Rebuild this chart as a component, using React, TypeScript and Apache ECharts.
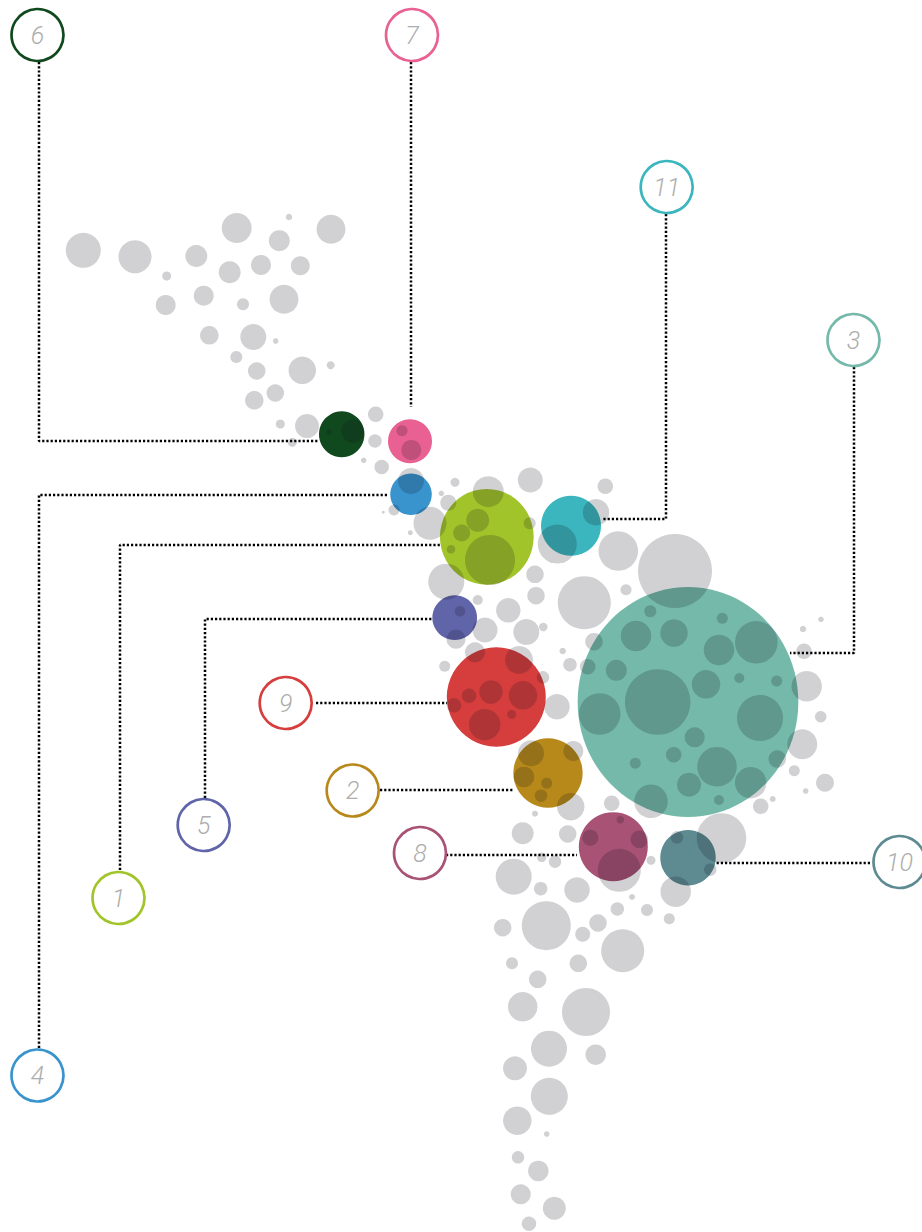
import React, { useEffect, useRef } from "react";
import * as echarts from "echarts";

const WIDTH = 922;
const HEIGHT = 1232;

// [x, y, diameter] in chart units
const greyBubbles: number[][] = [
  [83.3,250.3,35],[135,256.7,33],[166.7,276,9],[196.3,256,22],[236.7,228,30],[289,217,6.5],[279.3,240.7,21],[331,229.3,29],
  [229.7,272.3,22],[261,265,20],[300.3,265.7,19],[165.7,305,20],[203.7,295.7,20],[243,304.3,12],[284,299.3,29],[209.3,335.3,18.5],
  [253.3,337,26],[275.7,341,5.5],[236.3,357,12],[256.7,371,17.5],[302.3,370.3,27.5],[330.7,365.3,8],[275.3,393,17.5],[254.3,400.3,18.5],
  [280.3,424,9],[307,426,24],[292.3,442.3,9],[375.7,414.3,15.5],[375,441,13.5],[363.7,460.3,5.5],[381.7,467,14.5],[411,481,26],
  [455,482.3,9],[441.3,493.3,5.5],[448.3,502.7,16],[394,510,11],[383.3,512.3,3],[430,523.3,33],[410.3,532.7,5],
  [329,432,5.5],[352.7,431.3,23],[402,430.7,11],[411.3,450,20],
  [488.3,491.7,31],[530.3,480,25],[605.3,486.3,15.5],[596,512.3,26.5],[557.3,544,39],[477.7,520.3,23],[461.7,533,17],[529.7,523.3,12],
  [451,549.3,8.5],[490,560,50],[618.3,551,39.5],[675,571,74],[446.3,581.7,36],[535,574.3,17.5],[536,595.7,17.5],[584.3,602.7,53],
  [626,589.7,11],[650.3,611.3,12],[722.3,618.3,11],[477.7,600,10],[460,611.3,10.5],[508.3,610.3,24.5],[485,630,25],[526.3,632,26],
  [543.3,627,8.5],[456,639.3,19],[636,636,30.5],[674,633,27.5],[719,650,30.5],[756.3,642.3,42.5],[803,629,6.5],[821,619.3,5.5],
  [804,651.3,15.5],[594,641.7,17.5],[475,652.3,20],[519,660,28],[444.7,666.3,11],[562.7,651,6.5],[570,664.7,13.5],[587.7,666.7,15.5],
  [616.3,670.3,21],[543,677.3,12.5],[657.7,702,65.5],[706,684.3,28.5],[739.3,678,10],[776.7,681,11],[806.7,686.3,30.5],[599.7,714,41.5],
  [760,718,46],[820.7,716.7,11.5],[523,695.3,28.5],[491,692,23.5],[469,695.7,14.5],[454,705.3,14.5],[511.7,714.3,9],[484.7,724.7,31.5],
  [557,706.7,25.5],[694.7,737.3,20],[802.3,744.3,30],[531,753.3,26],[573.3,751,20],[673.7,754.7,15.5],[635.3,763.3,11],[717,766.7,39.5],
  [777.3,759,17.5],[794.3,770.7,11],[524,777,20.5],[546.7,783.3,11],[541,795.7,12.5],[689,784.7,24],[750.7,782.7,31.5],[825,782.7,18],
  [805.7,791,5.5],[651,801.3,33.5],[719,800,10],[570.7,806.7,27.5],[760.7,806.3,15.5],[772.7,799,6],[611.7,803.3,15.5],[535,813.7,6],
  [522.7,833.3,22],[567.7,834,17.5],[721.5,838,49.5],[620.3,819.7,7.5],[590.3,837.7,16],[639.3,839.3,17.5],[619.3,870.3,43],[651,860.3,9],
  [677,837.3,12.5],[710.3,869.7,12.5],[675.7,891.7,30.5],[541.7,857.3,9.5],[555,861.7,12.5],[513.7,876.7,36],[540.7,888.7,13.5],[577,890,25.5],
  [632,897,6],[617.3,909,13.5],[647,910,12],[669.3,918.7,11],[546.3,925.7,49],[502.7,927.7,17.5],[598,923,17.5],[582.7,934.3,15],
  [622.7,950.7,43],[512,963.3,12],[578.3,963.3,17.5],[537.7,979.3,17.5],[522.7,1006.7,29.5],[586,1012,48],[549,1048.7,36],[595.7,1054.7,20.5],
  [515,1068.3,24],[549.3,1096.3,37],[517.3,1120.7,28.5],[546.7,1134,5.5],[518,1157.3,12.5],[538.3,1171,20.5],[520.7,1194.3,20],[554.3,1208.3,23],[529,1223.7,14.5],
];

const seriesIds = ["1","2","3","4","5","6","7","8","9","10","11"];
const seriesColors = ["#A2C42B","#B6891A","#74B9AA","#3994CE","#6064A9","#11491F","#E96092","#A85275","#D63E3E","#5D8B91","#3CB6BE"];
// [x, y, width, height]
const colouredBubbles: number[][] = [
  [486.8,536.8,93.7,95.7],[548,773,69.3,69.3],[688,702,220.7,230],[411,494.3,41.5,41.5],[454.7,617.7,44.7,44.7],[341.7,434.3,45.5,46],
  [410,441.3,44,44],[613.3,846.7,69,69],[496.3,697,99,99.3],[688,857.7,55.5,55.5],[571,525.7,60,60],
];
const calloutCentres: number[][] = [
  [118.5,898],[352.7,790.5],[853.5,340],[37.5,1075.5],[203.7,825],[37.5,35],[412,35],[420,853],[285.7,703],[899.5,862],[666.7,187],
];
const connectors: number[][][] = [
  [[120,870],[120,545],[440,545]],
  [[380,790],[513,790]],
  [[854,367],[854,653],[790,653]],
  [[39,1048],[39,495],[387,495]],
  [[205,798],[205,619],[437,619]],
  [[39,62],[39,441],[318,441]],
  [[411,62],[411,407]],
  [[446,855],[577,855]],
  [[316,703],[447,703]],
  [[870,863],[716,863]],
  [[666,214],[666,519],[603,519]],
];

export default function App() {
  const ref = useRef<HTMLDivElement>(null);
  useEffect(() => {
    const chart = echarts.init(ref.current!, null, { renderer: "svg" });
    const series: any[] = [];
    connectors.forEach((pts, i) => {
      series.push({
        type: "line", name: "connector " + seriesIds[i], data: pts, z: 1, symbol: "none", silent: true,
        lineStyle: { color: "#000", width: 2.5, type: [2.2, 2], cap: "butt" },
      });
    });
    series.push({
      type: "scatter", name: "highlighted", z: 2, silent: true,
      data: colouredBubbles.map((b, i) => ({ value: b, itemStyle: { color: seriesColors[i], opacity: 1 } })),
      symbolSize: (v: number[]) => [v[2], v[3]],
    });
    series.push({
      type: "scatter", name: "others", z: 3, silent: true, data: greyBubbles,
      symbolSize: (v: number[]) => v[2],
      itemStyle: { color: "rgb(8,13,23)", opacity: 0.19 },
    });
    series.push({
      type: "scatter", name: "callouts", z: 4, silent: true,
      data: calloutCentres.map((c, i) => ({
        value: c, name: seriesIds[i],
        itemStyle: { color: "#fff", borderColor: seriesColors[i], borderWidth: 2.7, opacity: 1 },
      })),
      symbolSize: 52,
      label: {
        show: true, position: "inside", formatter: "{b}", color: "#ADADAD",
        fontFamily: "Roboto", fontStyle: "italic", fontWeight: 300, fontSize: 25,
      },
    });
    chart.setOption({
      animation: false,
      backgroundColor: "#fff",
      grid: { left: 0, right: 0, top: 0, bottom: 0 },
      xAxis: { type: "value", min: 0, max: WIDTH, show: false },
      yAxis: { type: "value", min: 0, max: HEIGHT, inverse: true, show: false },
      series,
    });
    return () => chart.dispose();
  }, []);
  return <div ref={ref} style={{ position: "absolute", left: 0, top: 0, width: WIDTH, height: HEIGHT }} />;
}
